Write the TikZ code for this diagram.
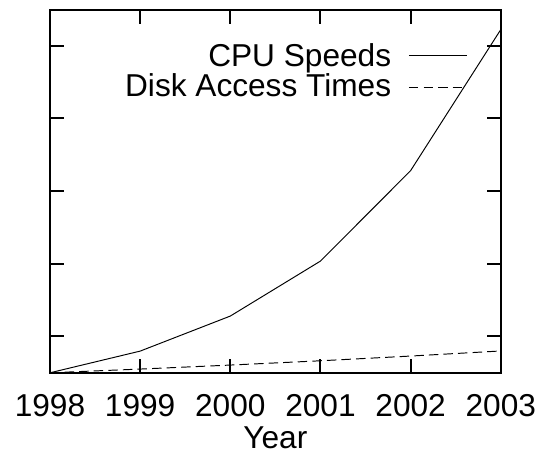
\documentclass[tikz,border=0pt]{standalone}
\usepackage{fontspec}
\setmainfont{Liberation Sans}
\usepackage{tikz}

\begin{document}
\begin{tikzpicture}[x=1.8028cm,y=1.454cm,font=\fontsize{18}{21.6}\selectfont]
\useasboundingbox (-0.5546,-1.077) rectangle (5.402,5.127);
% CPU speeds, one point per year
\draw[line width=0.55pt] (0,0) -- (1,0.298) -- (2,0.78) -- (3,1.536) -- (4,2.78) -- (5,4.72);
% disk access times
\draw[line width=0.55pt, dash pattern=on 5.4pt off 2.9pt] (0,0) -- (1,0.051) -- (2,0.106) -- (3,0.165) -- (4,0.23) -- (5,0.30);
% frame and ticks
\draw[line width=1.1pt] (0,0) rectangle (5,4.989);
\foreach \k in {1,...,4} \draw[line width=1.1pt] (\k,0) -- (\k,0.193) (\k,4.989) -- (\k,4.796);
\foreach \t in {0.5,1.5,...,4.5} \draw[line width=1.1pt] (0,\t) -- (0.155,\t) (5,\t) -- (4.845,\t);
\foreach \k/\yr in {0/1998,1/1999,2/2000,3/2001,4/2002,5/2003} \node[anchor=base, inner sep=0] (y\yr) at (\k,-0.596) {\yr};
\node[anchor=base, inner sep=0] (year) at (2.5,-1.041) {Year};
% legend
\node[anchor=base east, inner sep=0] (cpu) at (3.788,4.209) {CPU Speeds};
\node[anchor=base east, inner sep=0] (disk) at (3.788,3.796) {Disk Access Times};
\draw[line width=0.55pt] (3.982,4.360) -- (4.629,4.360);
\draw[line width=0.55pt, dash pattern=on 5.4pt off 2.9pt] (3.982,3.920) -- (4.629,3.920);
\end{tikzpicture}
\end{document}
